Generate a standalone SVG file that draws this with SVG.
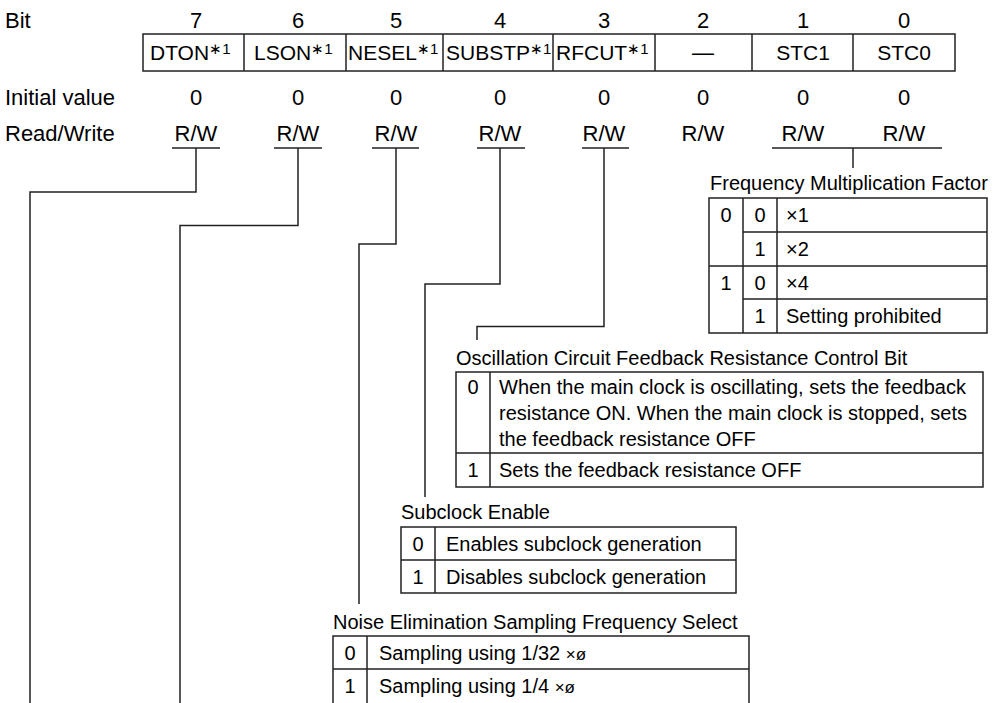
<svg xmlns="http://www.w3.org/2000/svg" width="993" height="703" viewBox="0 0 993 703">
<style>
text{font-family:"Liberation Sans",Arial,Helvetica,sans-serif;font-size:20px;fill:#000}
.h{font-size:22px}
.f{font-size:21px}
.c{text-anchor:middle}
.sup{font-size:15px}
.ln{fill:none;stroke:#222;stroke-width:1.5}
.tb{fill:none;stroke:#222;stroke-width:1.5}
</style>
<rect width="993" height="703" fill="#fff"/>
<g id="header">
<text class="h" x="5" y="28">Bit</text>
<text class="h" x="5" y="105">Initial value</text>
<text class="h" x="5" y="141">Read/Write</text>
</g>
<g id="register">
<rect class="tb" x="143" y="34" width="812" height="37"/>
<path class="tb" d="M244 34V71M346 34V71M443 34V71M553 34V71M655 34V71M752 34V71M853 34V71"/>
<g id="bit7"><text class="c h" x="196" y="28">7</text><text class="f" x="150" y="60">DTON<tspan class="sup" dy="-6">∗1</tspan></text><text class="c h" x="196" y="105">0</text><text class="c h" x="196" y="141">R/W</text></g>
<g id="bit6"><text class="c h" x="298" y="28">6</text><text class="f" x="254" y="60">LSON<tspan class="sup" dy="-6">∗1</tspan></text><text class="c h" x="298" y="105">0</text><text class="c h" x="298" y="141">R/W</text></g>
<g id="bit5"><text class="c h" x="396" y="28">5</text><text class="f" x="348" y="60">NESEL<tspan class="sup" dy="-6">∗1</tspan></text><text class="c h" x="396" y="105">0</text><text class="c h" x="396" y="141">R/W</text></g>
<g id="bit4"><text class="c h" x="500" y="28">4</text><text class="f" x="446" y="60">SUBSTP<tspan class="sup" dy="-6">∗1</tspan></text><text class="c h" x="500" y="105">0</text><text class="c h" x="500" y="141">R/W</text></g>
<g id="bit3"><text class="c h" x="604" y="28">3</text><text class="f" x="556" y="60">RFCUT<tspan class="sup" dy="-6">∗1</tspan></text><text class="c h" x="604" y="105">0</text><text class="c h" x="604" y="141">R/W</text></g>
<g id="bit2"><text class="c h" x="703" y="28">2</text><text class="c h" x="703" y="60">—</text><text class="c h" x="703" y="105">0</text><text class="c h" x="703" y="141">R/W</text></g>
<g id="bit1"><text class="c h" x="803" y="28">1</text><text class="c f" x="803" y="60">STC1</text><text class="c h" x="803" y="105">0</text><text class="c h" x="803" y="141">R/W</text></g>
<g id="bit0"><text class="c h" x="904" y="28">0</text><text class="c f" x="904" y="60">STC0</text><text class="c h" x="904" y="105">0</text><text class="c h" x="904" y="141">R/W</text></g>
</g>
<g id="connectors" class="ln">
<path d="M172 148H220M274 148H322M372 148H419M477 148H525M582 148H629M772 148H942"/>
<path d="M196 148V192H30V703"/>
<path d="M298 148V225.5H180V703"/>
<path d="M396 148V244H359V604"/>
<path d="M500 148V284H425V497"/>
<path d="M604 148V326.5H477V340"/>
<path d="M853 148V168"/>
</g>
<g id="freq">
<text x="710" y="190">Frequency Multiplication Factor</text>
<rect class="tb" x="709" y="198" width="278" height="135"/>
<path class="tb" d="M743 198V333M777 198V333M743 232H987M709 266H987M743 299H987"/>
<text class="c" x="726" y="222">0</text><text class="c" x="760" y="222">0</text><text x="786" y="222">×1</text>
<text class="c" x="760" y="256">1</text><text x="786" y="256">×2</text>
<text class="c" x="726" y="290">1</text><text class="c" x="760" y="290">0</text><text x="786" y="290">×4</text>
<text class="c" x="760" y="323">1</text><text x="786" y="323">Setting prohibited</text>
</g>
<g id="osc">
<text x="456" y="365">Oscillation Circuit Feedback Resistance Control Bit</text>
<rect class="tb" x="456" y="372" width="527" height="115"/>
<path class="tb" d="M490 372V487M456 453H983"/>
<text class="c" x="473" y="394">0</text>
<text x="499" y="394">When the main clock is oscillating, sets the feedback</text>
<text x="499" y="420">resistance ON. When the main clock is stopped, sets</text>
<text x="499" y="446">the feedback resistance OFF</text>
<text class="c" x="473" y="477">1</text>
<text x="499" y="477">Sets the feedback resistance OFF</text>
</g>
<g id="subclock">
<text x="401" y="519">Subclock Enable</text>
<rect class="tb" x="401" y="527" width="335" height="66"/>
<path class="tb" d="M435 527V593M401 560H736"/>
<text class="c" x="418" y="551">0</text><text x="446" y="551">Enables subclock generation</text>
<text class="c" x="418" y="584">1</text><text x="446" y="584">Disables subclock generation</text>
</g>
<g id="noise">
<text x="333" y="629">Noise Elimination Sampling Frequency Select</text>
<path class="tb" d="M333 710V636H749V710M367 636V710M333 669H749"/>
<text class="c" x="350" y="660">0</text><text x="379" y="660">Sampling using 1/32 <tspan font-size="17">×ø</tspan></text>
<text class="c" x="350" y="693">1</text><text x="379" y="693">Sampling using 1/4 <tspan font-size="17">×ø</tspan></text>
</g>
</svg>
